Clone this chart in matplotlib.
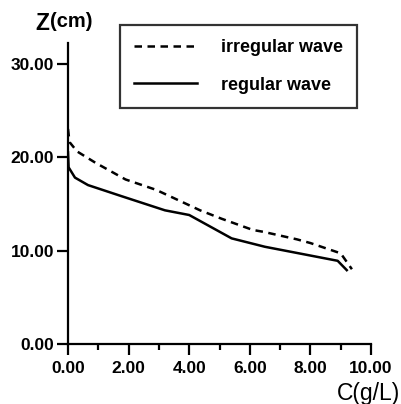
import matplotlib
matplotlib.use("Agg")
import matplotlib.pyplot as plt
from matplotlib.ticker import MultipleLocator, FormatStrFormatter

plt.rcParams['font.family'] = ['Liberation Sans', 'DejaVu Sans']

irr_c = [0.0, 0.05, 0.3, 0.9, 1.9, 2.9, 3.3, 4.36, 5.07, 6.1, 6.45, 7.55, 8.0, 9.0, 9.37]
irr_z = [23.0, 21.6, 20.6, 19.4, 17.6, 16.5, 15.9, 14.3, 13.4, 12.2, 12.0, 11.2, 10.8, 9.7, 8.0]
reg_c = [0.0, 0.02, 0.23, 0.66, 1.78, 3.2, 4.0, 5.4, 6.5, 8.9, 9.2]
reg_z = [20.5, 18.9, 17.8, 17.0, 15.8, 14.3, 13.8, 11.3, 10.4, 8.9, 7.9]

fig = plt.figure(figsize=(4.01, 4.04), dpi=100)
ax = fig.add_axes([68/401, 1-344/404, (371-68)/401, (344-43)/404])

l1, = ax.plot(irr_c, irr_z, color='black', lw=1.8, linestyle=(0, (3, 2.2)), label='irregular wave')
l2, = ax.plot(reg_c, reg_z, color='black', lw=1.8, label='regular wave')

ax.set_xlim(0, 10)
ax.set_ylim(0, 32.2)
ax.xaxis.set_major_locator(MultipleLocator(2))
ax.xaxis.set_minor_locator(MultipleLocator(1))
ax.yaxis.set_major_locator(MultipleLocator(10))
ax.xaxis.set_major_formatter(FormatStrFormatter('%.2f'))
ax.yaxis.set_major_formatter(FormatStrFormatter('%.2f'))
for s in ['top', 'right']:
    ax.spines[s].set_visible(False)
for s in ['left', 'bottom']:
    ax.spines[s].set_linewidth(1.6)
ax.tick_params(axis='both', which='major', direction='out', length=8, width=1.6, labelsize=12.5)
ax.tick_params(axis='y', which='major', pad=2)
ax.tick_params(axis='x', which='major', pad=4)
ax.tick_params(axis='x', which='minor', direction='out', length=4, width=1.6)
for lab in ax.get_xticklabels() + ax.get_yticklabels():
    lab.set_fontweight('bold')

leg = fig.legend(handles=[l1, l2], loc='upper left', bbox_to_anchor=(120/401, 1-25/404),
                 frameon=True, fancybox=False, edgecolor='black',
                 prop={'weight': 'bold', 'size': 13}, handlelength=3.45, handletextpad=1.33,
                 borderpad=0.8, labelspacing=1.12, borderaxespad=0)
leg.get_frame().set_linewidth(1.6)

fig.text(35/401, 1-30/404, 'Z', fontsize=16.5, fontweight='bold', ha='left', va='baseline')
fig.text(50/401, 1-27/404, '(cm)', fontsize=14.5, fontweight='bold', ha='left', va='baseline')
fig.text(400/401, 1-400/404, 'C(g/L)', fontsize=16.5, fontweight='normal', ha='right', va='baseline')

fig.savefig('out.png', dpi=100)
